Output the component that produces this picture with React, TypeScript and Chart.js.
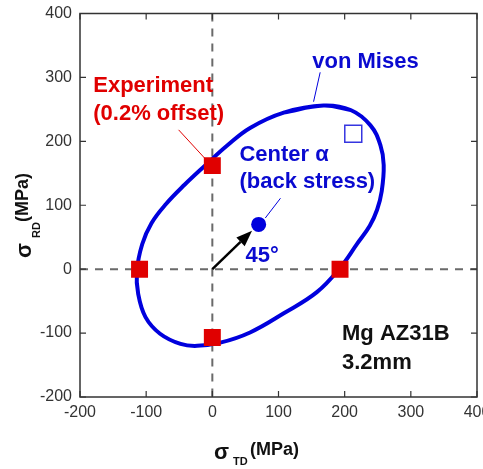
import React, { useEffect, useRef } from 'react';
import { Chart, registerables } from 'chart.js';

Chart.register(...registerables);

// ---- data (MPa) ----
const xTicks = [-200, -100, 0, 100, 200, 300, 400];
const yTicks = [-200, -100, 0, 100, 200, 300, 400];

const experimentX = [0, -110, 0, 193];
const experimentY = [162, 0, -107, 0];

const openSquareX = [213];
const openSquareY = [212];

const centerX = [70];
const centerY = [70];

// von Mises yield locus, read around the curve (clockwise from the top)
const ellipseX = [168, 209, 239, 254, 259, 256, 249, 238, 219, 193, 158, 108, 57, 12, -23, -48, -79, -101, -112, -114, -106, -92, -70, -42, -10, 22, 57, 108];
const ellipseY = [256, 249, 225, 194, 163, 122, 93, 68, 40, 2, -36, -69, -99, -115, -120, -117, -101, -75, -39, -3, 39, 72, 102, 132, 163, 193, 221, 245];

const arrowX = [0, 60];
const arrowY = [0, 60];

const FONT = "'Liberation Sans', Arial, Helvetica, sans-serif";
const RED = '#e00000';
const BLUE = '#0000dd';
const TEXT_BLUE = '#0a0ad0';

const annotations = [
  { text: 'Experiment', x: -180, y: 286, color: RED },
  { text: '(0.2% offset)', x: -180, y: 243, color: RED },
  { text: 'Center α', x: 41, y: 179, color: TEXT_BLUE },
  { text: '(back stress)', x: 41, y: 137, color: TEXT_BLUE },
  { text: 'von Mises', x: 151, y: 325, color: TEXT_BLUE },
  { text: '45°', x: 50, y: 21, color: TEXT_BLUE },
  { text: 'Mg AZ31B', x: 196, y: -101, color: '#111' },
  { text: '3.2mm', x: 196, y: -146, color: '#111' },
];

const leaders = [
  { x: [-51, -11], y: [218, 173], color: RED },
  { x: [163, 153], y: [308, 262], color: BLUE },
  { x: [80, 103], y: [80, 111], color: BLUE },
];

const zip = (xs: number[], ys: number[]) => xs.map((x, i) => ({ x, y: ys[i] }));

const decorPlugin = {
  id: 'decor',
  beforeDatasetsDraw(chart: any) {
    const { ctx, chartArea: a, scales } = chart;
    const x0 = scales.x.getPixelForValue(0);
    const y0 = scales.y.getPixelForValue(0);
    ctx.save();
    ctx.strokeStyle = '#6a6a6a';
    ctx.lineWidth = 2;
    ctx.setLineDash([8, 7]);
    ctx.beginPath();
    ctx.moveTo(x0, a.top);
    ctx.lineTo(x0, a.bottom);
    ctx.moveTo(a.left, y0);
    ctx.lineTo(a.right, y0);
    ctx.stroke();
    ctx.restore();
  },
  afterDatasetsDraw(chart: any) {
    const { ctx, scales } = chart;
    const px = (v: number) => scales.x.getPixelForValue(v);
    const py = (v: number) => scales.y.getPixelForValue(v);
    ctx.save();
    ctx.lineWidth = 1;
    leaders.forEach((l) => {
      ctx.strokeStyle = l.color;
      ctx.beginPath();
      ctx.moveTo(px(l.x[0]), py(l.y[0]));
      ctx.lineTo(px(l.x[1]), py(l.y[1]));
      ctx.stroke();
    });
    const sx = px(arrowX[0]), sy = py(arrowY[0]);
    const tx = px(arrowX[1]), ty = py(arrowY[1]);
    const ang = Math.atan2(ty - sy, tx - sx);
    const hl = 16, hw = 6;
    const bx = tx - hl * Math.cos(ang), by = ty - hl * Math.sin(ang);
    ctx.strokeStyle = '#000';
    ctx.fillStyle = '#000';
    ctx.lineWidth = 2.5;
    ctx.beginPath();
    ctx.moveTo(sx, sy);
    ctx.lineTo(bx, by);
    ctx.stroke();
    ctx.beginPath();
    ctx.moveTo(tx, ty);
    ctx.lineTo(bx + hw * Math.sin(ang), by - hw * Math.cos(ang));
    ctx.lineTo(bx - hw * Math.sin(ang), by + hw * Math.cos(ang));
    ctx.closePath();
    ctx.fill();
    ctx.font = `bold 22px ${FONT}`;
    ctx.textAlign = 'left';
    ctx.textBaseline = 'middle';
    annotations.forEach((t) => {
      ctx.fillStyle = t.color;
      ctx.fillText(t.text, px(t.x), py(t.y));
    });
    ctx.restore();
  },
  afterDraw(chart: any) {
    const { ctx, chartArea: a, scales } = chart;
    ctx.save();
    ctx.strokeStyle = '#333';
    ctx.lineWidth = 1.5;
    ctx.strokeRect(a.left, a.top, a.right - a.left, a.bottom - a.top);
    ctx.lineWidth = 1.2;
    ctx.beginPath();
    xTicks.forEach((v) => {
      const p = scales.x.getPixelForValue(v);
      ctx.moveTo(p, a.bottom);
      ctx.lineTo(p, a.bottom - 6);
      ctx.moveTo(p, a.top);
      ctx.lineTo(p, a.top + 6);
    });
    yTicks.forEach((v) => {
      const p = scales.y.getPixelForValue(v);
      ctx.moveTo(a.left, p);
      ctx.lineTo(a.left + 6, p);
      ctx.moveTo(a.right, p);
      ctx.lineTo(a.right - 6, p);
    });
    ctx.stroke();
    ctx.fillStyle = '#111';
    ctx.textAlign = 'left';
    ctx.textBaseline = 'alphabetic';
    ctx.font = `bold 22px ${FONT}`;
    ctx.fillText('σ', 214, 459);
    ctx.font = `bold 11px ${FONT}`;
    ctx.fillText('TD', 233, 465);
    ctx.font = `bold 18px ${FONT}`;
    ctx.fillText('(MPa)', 250, 455);

    ctx.translate(28, 258);
    ctx.rotate(-Math.PI / 2);
    ctx.font = `bold 22px ${FONT}`;
    ctx.fillText('σ', 0, 3);
    ctx.font = `bold 11px ${FONT}`;
    ctx.fillText('RD', 20, 12);
    ctx.font = `bold 18px ${FONT}`;
    ctx.fillText('(MPa)', 36, 0);
    ctx.restore();
  },
};

export default function App() {
  const ref = useRef<HTMLCanvasElement | null>(null);
  useEffect(() => {
    if (!ref.current) return;
    const loop = zip(ellipseX, ellipseY);
    const n = loop.length;
    const closed = [loop[n - 1], ...loop, loop[0], loop[1]];
    const chart = new Chart(ref.current, {
      type: 'scatter',
      data: {
        datasets: [
          {
            label: 'Experiment',
            data: zip(experimentX, experimentY),
            pointStyle: 'rect',
            pointRadius: 12,
            backgroundColor: RED,
            borderColor: RED,
            borderWidth: 0,
            order: 0,
          },
          {
            label: 'Center',
            data: zip(centerX, centerY),
            pointStyle: 'circle',
            pointRadius: 7.5,
            backgroundColor: BLUE,
            borderColor: BLUE,
            borderWidth: 0,
            order: 1,
          },
          {
            label: 'Open',
            data: zip(openSquareX, openSquareY),
            pointStyle: 'rect',
            pointRadius: 12,
            backgroundColor: 'rgba(0,0,0,0)',
            borderColor: '#3535e0',
            borderWidth: 1.5,
            order: 2,
          },
          {
            label: 'von Mises',
            data: closed,
            showLine: true,
            tension: 0.4,
            borderColor: BLUE,
            borderWidth: 4,
            pointRadius: 0,
            fill: false,
            order: 3,
          },
        ],
      },
      options: {
        responsive: false,
        animation: false,
        devicePixelRatio: 1,
        layout: { padding: { top: 9, right: 26, left: 0, bottom: 0 } },
        plugins: { legend: { display: false }, tooltip: { enabled: false } },
        scales: {
          x: {
            type: 'linear',
            min: -200,
            max: 400,
            grid: { display: false, drawTicks: false },
            border: { display: false },
            ticks: {
              stepSize: 100,
              padding: 6,
              color: '#333',
              font: { family: FONT, size: 16 },
              maxRotation: 0,
            },
            afterFit: (s: any) => {
              s.height = 72;
            },
          },
          y: {
            type: 'linear',
            min: -200,
            max: 400,
            grid: { display: false, drawTicks: false },
            border: { display: false },
            ticks: {
              stepSize: 100,
              padding: 8,
              color: '#333',
              font: { family: FONT, size: 16 },
            },
            afterFit: (s: any) => {
              s.width = 80;
              s.paddingTop = 0;
              s.paddingBottom = 0;
            },
          },
        },
      },
      plugins: [decorPlugin],
    });
    return () => chart.destroy();
  }, []);
  return (
    <div style={{ position: 'absolute', left: 0, top: 0, width: 483, height: 469, overflow: 'hidden' }}>
      <canvas ref={ref} width={503} height={469} style={{ display: 'block', width: 503, height: 469 }} />
    </div>
  );
}
